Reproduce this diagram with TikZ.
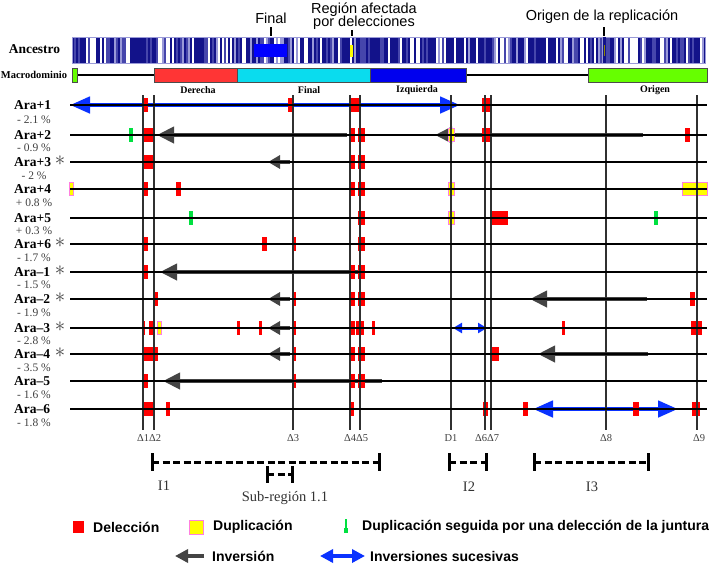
\documentclass[tikz,border=0pt]{standalone}
\usepackage{fontspec}
\setmainfont{Liberation Serif}
\newfontfamily\arial{Liberation Sans}
\usetikzlibrary{arrows.meta}

\definecolor{delred}{HTML}{FF0000}
\definecolor{dupyel}{HTML}{FFFF00}
\definecolor{duppink}{HTML}{FF7FE0}
\definecolor{grn}{HTML}{00E040}
\definecolor{invgray}{HTML}{444444}
\definecolor{blueA}{HTML}{0A32FF}
\definecolor{navyA}{HTML}{12128A}
\definecolor{midB}{HTML}{4646AC}
\definecolor{lightB}{HTML}{9A9AD8}
\definecolor{macred}{HTML}{FF3535}
\definecolor{maccyan}{HTML}{0ADCEE}
\definecolor{macblue}{HTML}{0000EE}
\definecolor{macgreen}{HTML}{66FF00}
\definecolor{vline}{HTML}{303030}
\definecolor{pctgray}{HTML}{404040}

\newcommand\dl[3]{\fill[delred] (#1,{#3-7}) rectangle (#2,{#3+7});}
\newcommand\dup[3]{\filldraw[fill=dupyel,draw=duppink,line width=0.9pt] (#1,{#3-6.5}) rectangle (#2,{#3+6.5});}
\newcommand\gdj[2]{\fill[grn] ({#1-2},{#2-7}) rectangle ({#1+2},{#2+7});}

\tikzset{
  aralab/.style={font=\fontsize{13.5}{15}\selectfont\bfseries, inner sep=0pt, anchor=west},
  pctlab/.style={font=\fontsize{11.5}{13}\selectfont, text=pctgray, inner sep=0pt},
  astlab/.style={font=\fontsize{21}{21}\selectfont, text=black!75, inner sep=0pt},
  maclab/.style={font=\fontsize{10}{11}\selectfont\bfseries, inner sep=0pt},
  toplab/.style={font=\arial\fontsize{14.5}{16}\selectfont, inner sep=0pt},
  dlab/.style={font=\fontsize{10.5}{12}\selectfont, text=pctgray, inner sep=0pt},
  ilab/.style={font=\fontsize{14.5}{16}\selectfont, text=black!80, inner sep=0pt},
  leglab/.style={font=\arial\bfseries\fontsize{14}{16}\selectfont, inner sep=0pt, anchor=west},
  invarrow/.style={draw=invgray, line width=4pt, -{Triangle[length=17pt,width=16pt]}},
  sinvarrow/.style={draw=invgray, line width=4pt, -{Triangle[length=12pt,width=13pt]}},
  sucarrow/.style={draw=blueA, line width=4.5pt, {Triangle[length=20pt,width=16pt]}-{Triangle[length=20pt,width=16pt]}},
  smallsuc/.style={draw=blueA, line width=3pt, {Triangle[length=9pt,width=10pt]}-{Triangle[length=9pt,width=10pt]}},
  brk/.style={line width=3pt, black, dash pattern=on 7pt off 3.5pt},
  brktick/.style={line width=3pt, black},
  rowline/.style={line width=1.3pt, black},
  deltaline/.style={line width=1.2pt, vline}
}

\begin{document}
\begin{tikzpicture}[x=1pt,y=-1pt]
\useasboundingbox (0,0) rectangle (709,566);
\fill[white] (0,0) rectangle (709,566);

% ---------- ancestor barcode ----------
\pgfmathsetseed{4242}
\fill[lightB] (72,37) rectangle (705,63);
\foreach \i in {0,...,316} {
  \pgfmathrandominteger{\rc}{0}{9}
  \pgfmathsetmacro{\xx}{72+2*\i}
  \ifcase\rc \def\col{navyA}\or\def\col{navyA}\or\def\col{navyA}\or\def\col{navyA}\or\def\col{midB}\or\def\col{midB}\or\def\col{lightB}\or\def\col{white}\or\def\col{white}\else\def\col{navyA}\fi
  \fill[\col] (\xx,37) rectangle ({\xx+2},63);
}
\draw[lightB, line width=1pt] (72,37) rectangle (705,63);
\fill[blue] (254,44) rectangle (287,57);
\fill[dupyel] (350,45) rectangle (353,57);
\fill[navyA] (602.5,37) rectangle (605.5,63);
\draw[olive, line width=0.6pt] (604,45) -- (604,56);
\draw[line width=2pt] (271,27) -- (271,36);
\draw[line width=2pt] (352,30) -- (352,36);
\draw[line width=2pt] (604,27) -- (604,36);
\node[toplab] (tfinal) at (271,18) {Final};
\node[toplab, align=center] (treg) at (364,16) {Región afectada\\[-2.5pt]por delecciones};
\node[toplab] (torig) at (602,17) {Origen de la replicación};
\node[font=\fontsize{13.5}{15}\selectfont\bfseries, inner sep=0pt] (anc) at (34.5,49) {Ancestro};

% ---------- macrodomains ----------
\node[font=\fontsize{10.5}{12}\selectfont\bfseries, inner sep=0pt] (mac) at (34,75) {Macrodominio};
\draw[line width=1.5pt] (77,75) -- (154,75);
\draw[line width=1.5pt] (466,75) -- (588,75);
\filldraw[fill=macgreen, draw=black!70, line width=0.8pt] (72,68) rectangle (77,82);
\filldraw[fill=macred, draw=black!70, line width=0.8pt] (154,68) rectangle (237,82);
\filldraw[fill=maccyan, draw=black!70, line width=0.8pt] (237,68) rectangle (370,82);
\filldraw[fill=macblue, draw=black!70, line width=0.8pt] (370,68) rectangle (466,82);
\filldraw[fill=macgreen, draw=black!70, line width=0.8pt] (588,68) rectangle (707,82);
\node[maclab] (mder) at (198,90) {Derecha};
\node[maclab] (mfin) at (309,90) {Final};
\node[maclab] (mizq) at (417,90) {Izquierda};
\node[maclab] (mori) at (655,90) {Origen};

% ---------- row labels ----------
\node[aralab] (a1) at (14,105) {Ara+1};  \node[pctlab] (p1) at (34,120) {- 2.1 \%};
\node[aralab] (a2) at (14,135) {Ara+2};  \node[pctlab] (p2) at (34,148) {- 0.9 \%};
\node[aralab] (a3) at (14,162) {Ara+3};  \node[pctlab] (p3) at (34,176) {- 2 \%};
\node[aralab] (a4) at (14,189) {Ara+4};  \node[pctlab] (p4) at (34,203) {+ 0.8 \%};
\node[aralab] (a5) at (14,218) {Ara+5};  \node[pctlab] (p5) at (34,231) {+ 0.3 \%};
\node[aralab] (a6) at (14,244) {Ara+6};  \node[pctlab] (p6) at (34,258) {- 1.7 \%};
\node[aralab] (a7) at (14,272) {Ara–1};  \node[pctlab] (p7) at (34,285) {- 1.5 \%};
\node[aralab] (a8) at (14,299) {Ara–2};  \node[pctlab] (p8) at (34,313) {- 1.9 \%};
\node[aralab] (a9) at (14,328) {Ara–3};  \node[pctlab] (p9) at (34,341) {- 2.8 \%};
\node[aralab] (a10) at (14,354) {Ara–4}; \node[pctlab] (p10) at (34,368) {- 3.5 \%};
\node[aralab] (a11) at (14,381) {Ara–5}; \node[pctlab] (p11) at (34,395) {- 1.6 \%};
\node[aralab] (a12) at (14,409) {Ara–6}; \node[pctlab] (p12) at (34,423) {- 1.8 \%};
\foreach \yy/\nm in {162/s3,244/s6,272/s7,299/s8,328/s9,354/s10}
  \node[astlab] (\nm) at (60,\yy-1.5) {$\ast$};

% ---------- arrows (inversions) ----------
\draw[sucarrow] (70,105) -- (460,105);
\draw[invarrow] (347,135) -- (157,135);
\draw[invarrow] (643,135) -- (435,135);
\draw[sinvarrow] (290,162) -- (268,162);
\draw[invarrow] (365,272) -- (160,272);
\draw[sinvarrow] (290,299) -- (268,299);
\draw[invarrow] (647,299) -- (530,299);
\draw[sinvarrow] (290,328) -- (268,328);
\draw[smallsuc] (453,328) -- (487,328);
\draw[sinvarrow] (290,354) -- (268,354);
\draw[invarrow] (648,354) -- (538,354);
\draw[invarrow] (382,381) -- (163,381);
\draw[sucarrow] (533,409) -- (678,409);

% ---------- markers ----------
% Ara+1
\dl{143}{147.5}{105} \dl{288}{293}{105} \dl{350}{354.5}{105} \dl{355}{359}{105} \dl{482}{492}{105} \dl{604.8}{607.3}{105}
% Ara+2
\gdj{131}{135} \dl{143}{154}{135} \dl{350}{355}{135} \dl{358}{365}{135} \dup{448}{454}{135} \dl{482}{492}{135} \dl{604.8}{607.3}{135} \dl{685}{690}{135}
% Ara+3
\dl{143}{154}{162} \dl{350}{355}{162} \dl{358}{365}{162} \dl{604.8}{607.3}{162}
% Ara+4
\dup{69.5}{73}{189} \dl{143}{147.5}{189} \dl{176}{181}{189} \dl{350}{355}{189} \dl{358}{365}{189} \dup{448}{454}{189} \dl{604.8}{607.3}{189} \dup{682}{707}{189}
% Ara+5
\gdj{190.5}{218} \dl{358}{365}{218} \dup{448}{454}{218} \fill[delred] (492,211) rectangle (508,225); \gdj{655.5}{218}
% Ara+6
\dl{143}{147.5}{244} \dl{262}{267}{244} \dl{292}{295.5}{244} \dl{358}{365}{244} \dl{604.8}{607.3}{244}
% Ara-1
\dl{143}{147.5}{272} \dl{350}{355}{272} \dl{358}{365}{272} \dl{604.8}{607.3}{272}
% Ara-2
\dl{155}{158}{299} \dl{292}{295.5}{299} \dl{350}{355}{299} \dl{358}{365}{299} \dl{604.8}{607.3}{299} \dl{690}{695}{299}
% Ara-3
\dl{142}{144.5}{328} \dl{149}{153}{328} \dup{157.5}{161.5}{328} \dl{237}{239.5}{328} \dl{259}{261.5}{328} \dl{292}{295.5}{328} \dl{350}{355}{328} \dl{355.5}{359}{328} \dl{359.5}{364}{328} \dl{372}{374.5}{328} \dl{562}{564.5}{328} \dl{604.8}{607.3}{328} \dl{691}{702}{328}
% Ara-4
\dl{143}{158}{354} \dl{292}{295.5}{354} \dl{350}{355}{354} \dl{358}{365}{354} \dl{492}{499}{354} \dl{604.8}{607.3}{354}
% Ara-5
\dl{143}{147.5}{381} \dl{292}{295.5}{381} \dl{350}{355}{381} \dl{358}{365}{381} \dl{604.8}{607.3}{381}
% Ara-6
\dl{143}{153}{409} \dl{166}{170}{409} \dl{350}{354}{409} \dl{483}{488}{409} \dl{523}{528}{409} \dl{604.8}{607.3}{409} \dl{633}{639}{409} \dl{692}{700}{409}

% ---------- vertical delta lines ----------
\foreach \xx in {143,154,293,350,360,451,485,491,606,697}
  \draw[deltaline] (\xx,95) -- (\xx,430);

% ---------- row lines ----------
\foreach \yy in {105,135,162,189,218,244,272,299,328,354,381,409}
  \draw[rowline] (70,\yy) -- (707,\yy);

% ---------- delta labels ----------
\node[dlab] (d12) at (149,438) {Δ1Δ2};
\node[dlab] (d3) at (293,438) {Δ3};
\node[dlab] (d45) at (356,438) {Δ4Δ5};
\node[dlab] (dD1) at (451,438) {D1};
\node[dlab] (d67) at (487,438) {Δ6Δ7};
\node[dlab] (d8) at (606,438) {Δ8};
\node[dlab] (d9) at (699,438) {Δ9};

% ---------- intervals ----------
\draw[brk] (152,462) -- (379,462);
\draw[brktick] (152,453) -- (152,471);
\draw[brktick] (379,453) -- (379,471);
\draw[brk] (267,474) -- (292,474);
\draw[brktick] (267,466) -- (267,483);
\draw[brktick] (292,466) -- (292,483);
\draw[brk] (449,462) -- (486,462);
\draw[brktick] (449,453) -- (449,471);
\draw[brktick] (486,453) -- (486,471);
\draw[brk] (534,462) -- (648,462);
\draw[brktick] (534,453) -- (534,471);
\draw[brktick] (648,453) -- (648,471);
\node[ilab] (i1) at (164,486) {I1};
\node[ilab] (sub) at (285,498) {Sub-región 1.1};
\node[ilab] (i2) at (469,487) {I2};
\node[ilab] (i3) at (592,487) {I3};

% ---------- legend ----------
\fill[delred] (73,521) rectangle (84,533);
\node[leglab] (lgdel) at (93,527) {Delección};
\filldraw[fill=dupyel, draw=duppink, line width=1pt] (189,520) rectangle (203,534);
\node[leglab] (lgdup) at (213,527) {Duplicación};
\fill[grn] (344.8,519) rectangle (347.2,533);
\fill[grn] (343.8,528) rectangle (348.2,533);
\node[leglab] (lgdj) at (362,527) {Duplicación seguida por una delección de la juntura};
\draw[draw=invgray, line width=4.5pt, -{Triangle[length=13pt,width=13pt]}] (204,556) -- (175,556);
\node[leglab] (lginv) at (212,556) {Inversión};
\draw[draw=blueA, line width=4pt, {Triangle[length=13pt,width=13pt]}-{Triangle[length=13pt,width=13pt]}] (320,556) -- (365,556);
\node[leglab] (lgsuc) at (370,556) {Inversiones sucesivas};
\end{tikzpicture}
\end{document}
